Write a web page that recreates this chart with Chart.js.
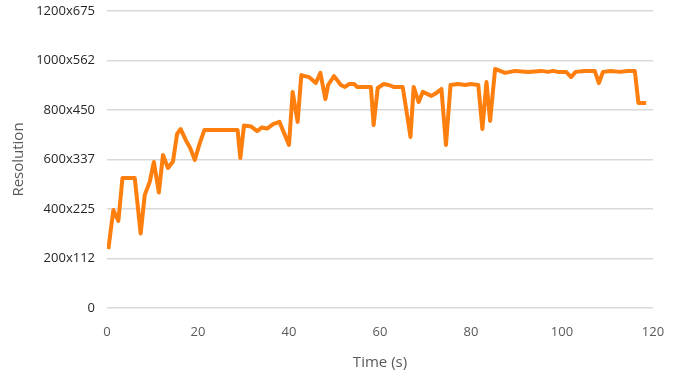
<!DOCTYPE html>
<html lang="en">
<head>
  <meta charset="UTF-8">
  <title>Resolution over time</title>
  <script src="https://cdn.jsdelivr.net/npm/chart.js"></script>
  <style>
    body {
      margin: 0;
      padding: 0;
      background: #ffffff;
    }
    .chart-box {
      width: 679px;
      height: 376px;
    }
  </style>
</head>
<body>
  <div class="chart-box">
    <canvas id="res-chart" width="679" height="376"></canvas>
  </div>
  <script>
    // time (s) and resolution width
    const times = [
      0.3, 1.4, 2.5, 3.4, 6.1, 7.4, 8.3, 9.4, 10.3, 11.4, 12.3, 13.4, 14.5, 15.4, 16.2,
      17.3, 18.3, 19.3, 20.4, 21.4, 28.7, 29.3, 30.1, 31.7, 33.0, 34.0, 35.2, 36.5, 37.9,
      40.0, 40.8, 41.9, 42.7, 44.4, 45.9, 46.9, 48.0, 48.6, 49.9, 51.4, 52.3, 53.2, 54.3,
      55.0, 58.0, 58.6, 59.5, 60.8, 61.9, 63.0, 65.0, 66.7, 67.4, 68.5, 69.4, 71.3, 72.4,
      73.5, 74.5, 75.5, 77.2, 78.7, 79.9, 81.6, 82.5, 83.4, 84.2, 85.3, 87.5, 89.7, 92.6,
      95.4, 96.9, 98.0, 99.1, 100.9, 102.0, 103.0, 105.0, 107.2, 108.1, 109.0, 110.7, 112.7,
      114.4, 116.0, 116.8, 118.5
    ];
    const resolution = [
      238, 396, 352, 525, 525, 301, 457, 510, 590, 467, 618, 566, 592, 703, 723,
      679, 646, 598, 667, 719, 719, 606, 737, 733, 715, 729, 725, 743, 752,
      659, 873, 752, 941, 933, 909, 950, 844, 901, 937, 901, 893, 905, 905,
      893, 893, 739, 889, 905, 901, 893, 893, 691, 893, 832, 873, 857, 869,
      885, 659, 901, 905, 901, 905, 901, 723, 913, 756, 966, 950, 958, 954,
      958, 954, 958, 954, 954, 933, 954, 958, 958, 909, 954, 958, 954,
      958, 958, 828, 828
    ];

    // y tick labels, one per 200 px of width
    const yTickValues = [0, 200, 400, 600, 800, 1000, 1200];
    const yTickLabels = ['0', '200x112', '400x225', '600x337', '800x450', '1000x562', '1200x675'];

    const points = times.map((t, i) => ({ x: t, y: resolution[i] }));
    const textColor = '#595959';
    const fontFamily = "'Open Sans', 'Liberation Sans', sans-serif";

    new Chart(document.getElementById('res-chart'), {
      type: 'scatter',
      data: {
        datasets: [{
          label: 'Resolution',
          data: points,
          showLine: true,
          borderColor: '#ff7f0e',
          borderWidth: 4,
          pointRadius: 0,
          tension: 0,
          borderJoinStyle: 'round'
        }]
      },
      options: {
        responsive: false,
        animation: false,
        layout: { padding: { top: 11, right: 26, bottom: 0, left: 6 } },
        plugins: {
          legend: { display: false },
          tooltip: { enabled: false }
        },
        scales: {
          x: {
            type: 'linear',
            min: 0,
            max: 120,
            afterFit: (scale) => { scale.height = 68; },
            ticks: {
              stepSize: 20,
              padding: 8,
              color: textColor,
              font: { family: fontFamily, size: 13 }
            },
            grid: { display: false },
            border: { display: false },
            title: {
              display: true,
              text: 'Time (s)',
              color: textColor,
              font: { family: fontFamily, size: 15 },
              padding: { top: 8 }
            }
          },
          y: {
            min: 0,
            max: 1200,
            afterFit: (scale) => {
              scale.width = 101;
              // tick padding should not push the plot down
              scale.paddingTop = 0;
              scale.paddingBottom = 0;
            },
            afterBuildTicks: (scale) => {
              scale.ticks = yTickValues.map(v => ({ value: v }));
            },
            ticks: {
              padding: 12,
              color: '#262626',
              font: { family: fontFamily, size: 13 },
              callback: (value) => yTickLabels[yTickValues.indexOf(value)]
            },
            grid: {
              color: '#d9d9d9',
              lineWidth: 1.5,
              drawTicks: false
            },
            border: { display: false },
            title: {
              display: true,
              text: 'Resolution',
              color: textColor,
              font: { family: fontFamily, size: 15 },
              padding: { bottom: 0 }
            }
          }
        }
      }
    });
  </script>
</body>
</html>
